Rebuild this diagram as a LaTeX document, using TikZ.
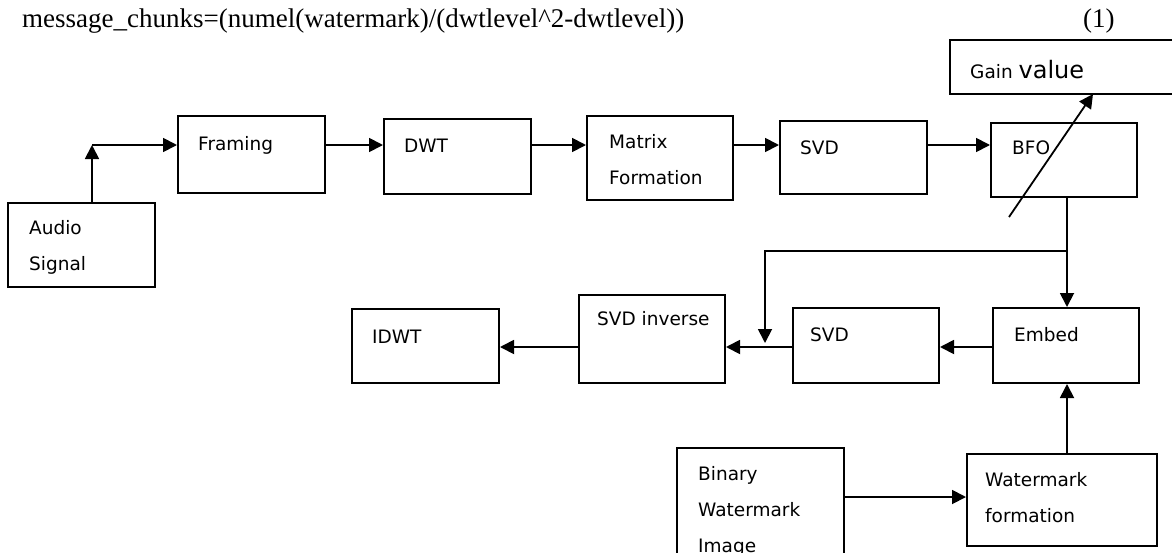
\documentclass[tikz,border=0pt]{standalone}
\usepackage{fontspec}
\setmainfont{Liberation Serif}
\newfontfamily\boxfont{DejaVu Sans}
\usetikzlibrary{arrows.meta,calc}
\tikzset{
  blk/.style={draw=black, line width=2pt, anchor=north west, inner sep=0pt},
  lbl/.style={anchor=west, inner sep=0pt, align=left, font=\boxfont\fontsize{18.5}{36}\selectfont},
  conn/.style={draw=black, line width=1.8pt},
  arr/.style={conn, -{Triangle[length=14pt,width=14pt]}},
  eq/.style={anchor=base west, inner sep=0pt, font=\fontsize{27}{30}\selectfont}
}
\begin{document}
\begin{tikzpicture}[x=1pt,y=-1pt]
\useasboundingbox (0,0) rectangle (1172,552);
\clip (0,0) rectangle (1172,552);
% equation line
\node[eq] (eqn) at (22,27) {message\_chunks=(numel(watermark)/(dwtlevel\textasciicircum 2-dwtlevel))};
\node[eq] (eqno) at (1083,27) {(1)};
% boxes
\node[blk, minimum width=147pt, minimum height=84pt] (audio) at (7,202) {};
\node[blk, minimum width=147pt, minimum height=77pt] (framing) at (177,115) {};
\node[blk, minimum width=147pt, minimum height=75pt] (dwt) at (383,118) {};
\node[blk, minimum width=146pt, minimum height=84pt] (matrix) at (586,115) {};
\node[blk, minimum width=147pt, minimum height=73pt] (svda) at (779,120) {};
\node[blk, minimum width=146pt, minimum height=74pt] (bfo) at (990,122) {};
\node[blk, minimum width=240pt, minimum height=54pt] (gain) at (949,39) {};
\node[blk, minimum width=146pt, minimum height=88pt] (svdinv) at (578,294) {};
\node[blk, minimum width=147pt, minimum height=74pt] (idwt) at (351,308) {};
\node[blk, minimum width=146pt, minimum height=75pt] (svdb) at (792,307) {};
\node[blk, minimum width=146pt, minimum height=75pt] (embed) at (992,307) {};
\node[blk, minimum width=167pt, minimum height=130pt] (binary) at (676,447) {};
\node[blk, minimum width=190pt, minimum height=92pt] (wmform) at (966,453) {};
% labels
\node[lbl] (taudio) at (29,247) {Audio\\Signal};
\node[lbl] (tframing) at (198,145) {Framing};
\node[lbl] (tdwt) at (404,146) {DWT};
\node[lbl] (tmatrix) at (609,160) {Matrix\\Formation};
\node[lbl] (tsvda) at (800,148) {SVD};
\node[lbl] (tbfo) at (1012,148) {BFO};
\node[lbl, anchor=base west] (tgain) at (970,78) {Gain {\fontsize{24}{28}\selectfont value}};
\node[lbl] (tidwt) at (372,337) {IDWT};
\node[lbl] (tsvdinv) at (597,319) {SVD inverse};
\node[lbl] (tsvdb) at (810,335) {SVD};
\node[lbl] (tembed) at (1014,335) {Embed};
\node[lbl] (tbinary) at (698,511) {Binary\\Watermark\\Image};
\node[lbl] (twmform) at (985,498) {Watermark\\formation};
% helper coordinates
\coordinate (j1) at (92,145);
\coordinate (j2) at (1067,251);
\coordinate (j3) at (765,251);
\coordinate (j4) at (765,343);
\coordinate (d1) at (1009,217);
\coordinate (d2) at (1093,94);
\coordinate (r2) at (0,347);
\coordinate (r3) at (0,497);
% connectors
\draw[arr] (j1 |- audio.north) -- (j1);
\draw[arr] (j1) -- (framing.west |- j1);
\draw[arr] (framing.east |- j1) -- (dwt.west |- j1);
\draw[arr] (dwt.east |- j1) -- (matrix.west |- j1);
\draw[arr] (matrix.east |- j1) -- (svda.west |- j1);
\draw[arr] (svda.east |- j1) -- (bfo.west |- j1);
\draw[arr] (d1) -- (d2);
\draw[conn] (bfo.south -| j2) -- (j2);
\draw[arr] (j2) -- (embed.north -| j2);
\draw[arr] (j2) -- (j3) -- (j4);
\draw[arr] (embed.west |- r2) -- (svdb.east |- r2);
\draw[arr] (svdb.west |- r2) -- (svdinv.east |- r2);
\draw[arr] (svdinv.west |- r2) -- (idwt.east |- r2);
\draw[arr] (binary.east |- r3) -- (wmform.west |- r3);
\draw[arr] (wmform.north -| j2) -- (embed.south -| j2);
\end{tikzpicture}
\end{document}
